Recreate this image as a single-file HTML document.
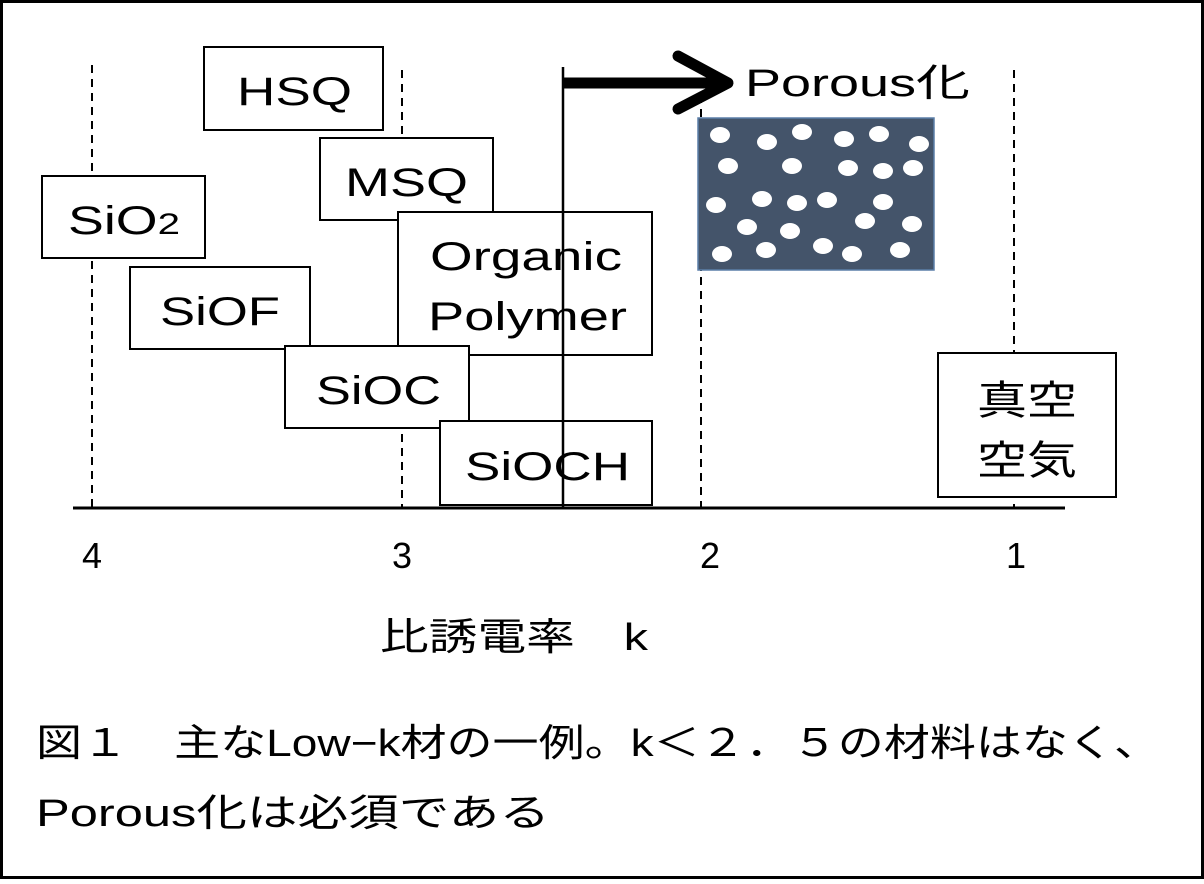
<!DOCTYPE html>
<html><head><meta charset="utf-8"><style>
body{margin:0;background:#fff;}
svg text{font-family:"Liberation Sans","Noto Sans CJK JP",sans-serif;fill:#000;}
</style></head><body>
<svg width="1204" height="879" xmlns="http://www.w3.org/2000/svg">
<rect x="1.5" y="1.5" width="1201" height="876" fill="#fff" stroke="#000" stroke-width="3"/>
<g stroke="#000" stroke-width="2" stroke-dasharray="8,6">
<line x1="92" y1="65" x2="92" y2="508"/>
<line x1="402" y1="70" x2="402" y2="508"/>
<line x1="701" y1="95" x2="701" y2="508"/>
<line x1="1014" y1="70" x2="1014" y2="508"/>
</g>
<line x1="73" y1="508" x2="1065" y2="508" stroke="#000" stroke-width="3"/>
<g fill="#fff" stroke="#000" stroke-width="2">
<rect x="204" y="47" width="179" height="83"/>
<rect x="320" y="138" width="173" height="82"/>
<rect x="42" y="176" width="163" height="82"/>
<rect x="130" y="267" width="180" height="82"/>
<rect x="398" y="212" width="254" height="143"/>
<rect x="285" y="346" width="184" height="82"/>
<rect x="440" y="421" width="212" height="84"/>
<rect x="938" y="353" width="178" height="144"/>
</g>
<g font-size="40" lengthAdjust="spacingAndGlyphs">
<text x="237" y="105" textLength="115" lengthAdjust="spacingAndGlyphs">HSQ</text>
<text x="345" y="196" textLength="123" lengthAdjust="spacingAndGlyphs">MSQ</text>
<text x="68" y="234" textLength="112" lengthAdjust="spacingAndGlyphs">SiO<tspan font-size="30">2</tspan></text>
<text x="160" y="325" textLength="120" lengthAdjust="spacingAndGlyphs">SiOF</text>
<text x="430" y="270" textLength="192" lengthAdjust="spacingAndGlyphs">Organic</text>
<text x="428" y="330" textLength="199" lengthAdjust="spacingAndGlyphs">Polymer</text>
<text x="316" y="404" textLength="125" lengthAdjust="spacingAndGlyphs">SiOC</text>
<text x="465" y="480" textLength="165" lengthAdjust="spacingAndGlyphs">SiOCH</text>
<text x="977" y="414" textLength="100" lengthAdjust="spacingAndGlyphs">真空</text>
<text x="977" y="474" textLength="100" lengthAdjust="spacingAndGlyphs">空気</text>
</g>
<line x1="563" y1="67" x2="563" y2="508" stroke="#000" stroke-width="2.5"/>
<line x1="563" y1="83" x2="722" y2="83" stroke="#000" stroke-width="11"/>
<polyline points="678,56 728,83 678,109" fill="none" stroke="#000" stroke-width="11" stroke-linecap="round" stroke-linejoin="round"/>
<text x="745" y="96" font-size="38" textLength="225" lengthAdjust="spacingAndGlyphs">Porous化</text>
<rect x="698" y="118" width="236" height="152" fill="#44546a" stroke="#5b7fa8" stroke-width="1.5"/>
<g fill="#fff">
<ellipse cx="720" cy="135" rx="10" ry="8"/><ellipse cx="767" cy="142" rx="10" ry="8"/><ellipse cx="802" cy="132" rx="10" ry="8"/><ellipse cx="844" cy="139" rx="10" ry="8"/><ellipse cx="879" cy="134" rx="10" ry="8"/><ellipse cx="919" cy="144" rx="10" ry="8"/>
<ellipse cx="728" cy="166" rx="10" ry="8"/><ellipse cx="792" cy="166" rx="10" ry="8"/><ellipse cx="848" cy="168" rx="10" ry="8"/><ellipse cx="883" cy="171" rx="10" ry="8"/><ellipse cx="913" cy="168" rx="10" ry="8"/>
<ellipse cx="716" cy="205" rx="10" ry="8"/><ellipse cx="762" cy="199" rx="10" ry="8"/><ellipse cx="797" cy="203" rx="10" ry="8"/><ellipse cx="827" cy="200" rx="10" ry="8"/><ellipse cx="883" cy="202" rx="10" ry="8"/>
<ellipse cx="865" cy="221" rx="10" ry="8"/><ellipse cx="912" cy="224" rx="10" ry="8"/><ellipse cx="747" cy="227" rx="10" ry="8"/><ellipse cx="790" cy="231" rx="10" ry="8"/>
<ellipse cx="722" cy="254" rx="10" ry="8"/><ellipse cx="766" cy="250" rx="10" ry="8"/><ellipse cx="823" cy="246" rx="10" ry="8"/><ellipse cx="852" cy="254" rx="10" ry="8"/><ellipse cx="900" cy="250" rx="10" ry="8"/>
</g>
<g font-size="36" text-anchor="middle">
<text x="92" y="568">4</text><text x="402" y="568">3</text><text x="710" y="568">2</text><text x="1016" y="568">1</text>
</g>
<text x="380" y="650" font-size="38" textLength="268" lengthAdjust="spacingAndGlyphs">比誘電率　k</text>
<text x="36" y="756" font-size="38" textLength="1124" lengthAdjust="spacingAndGlyphs">図１　主なLow−k材の一例。k＜２．５の材料はなく、</text>
<text x="36" y="826" font-size="38" textLength="514" lengthAdjust="spacingAndGlyphs">Porous化は必須である</text>
</svg>
</body></html>
